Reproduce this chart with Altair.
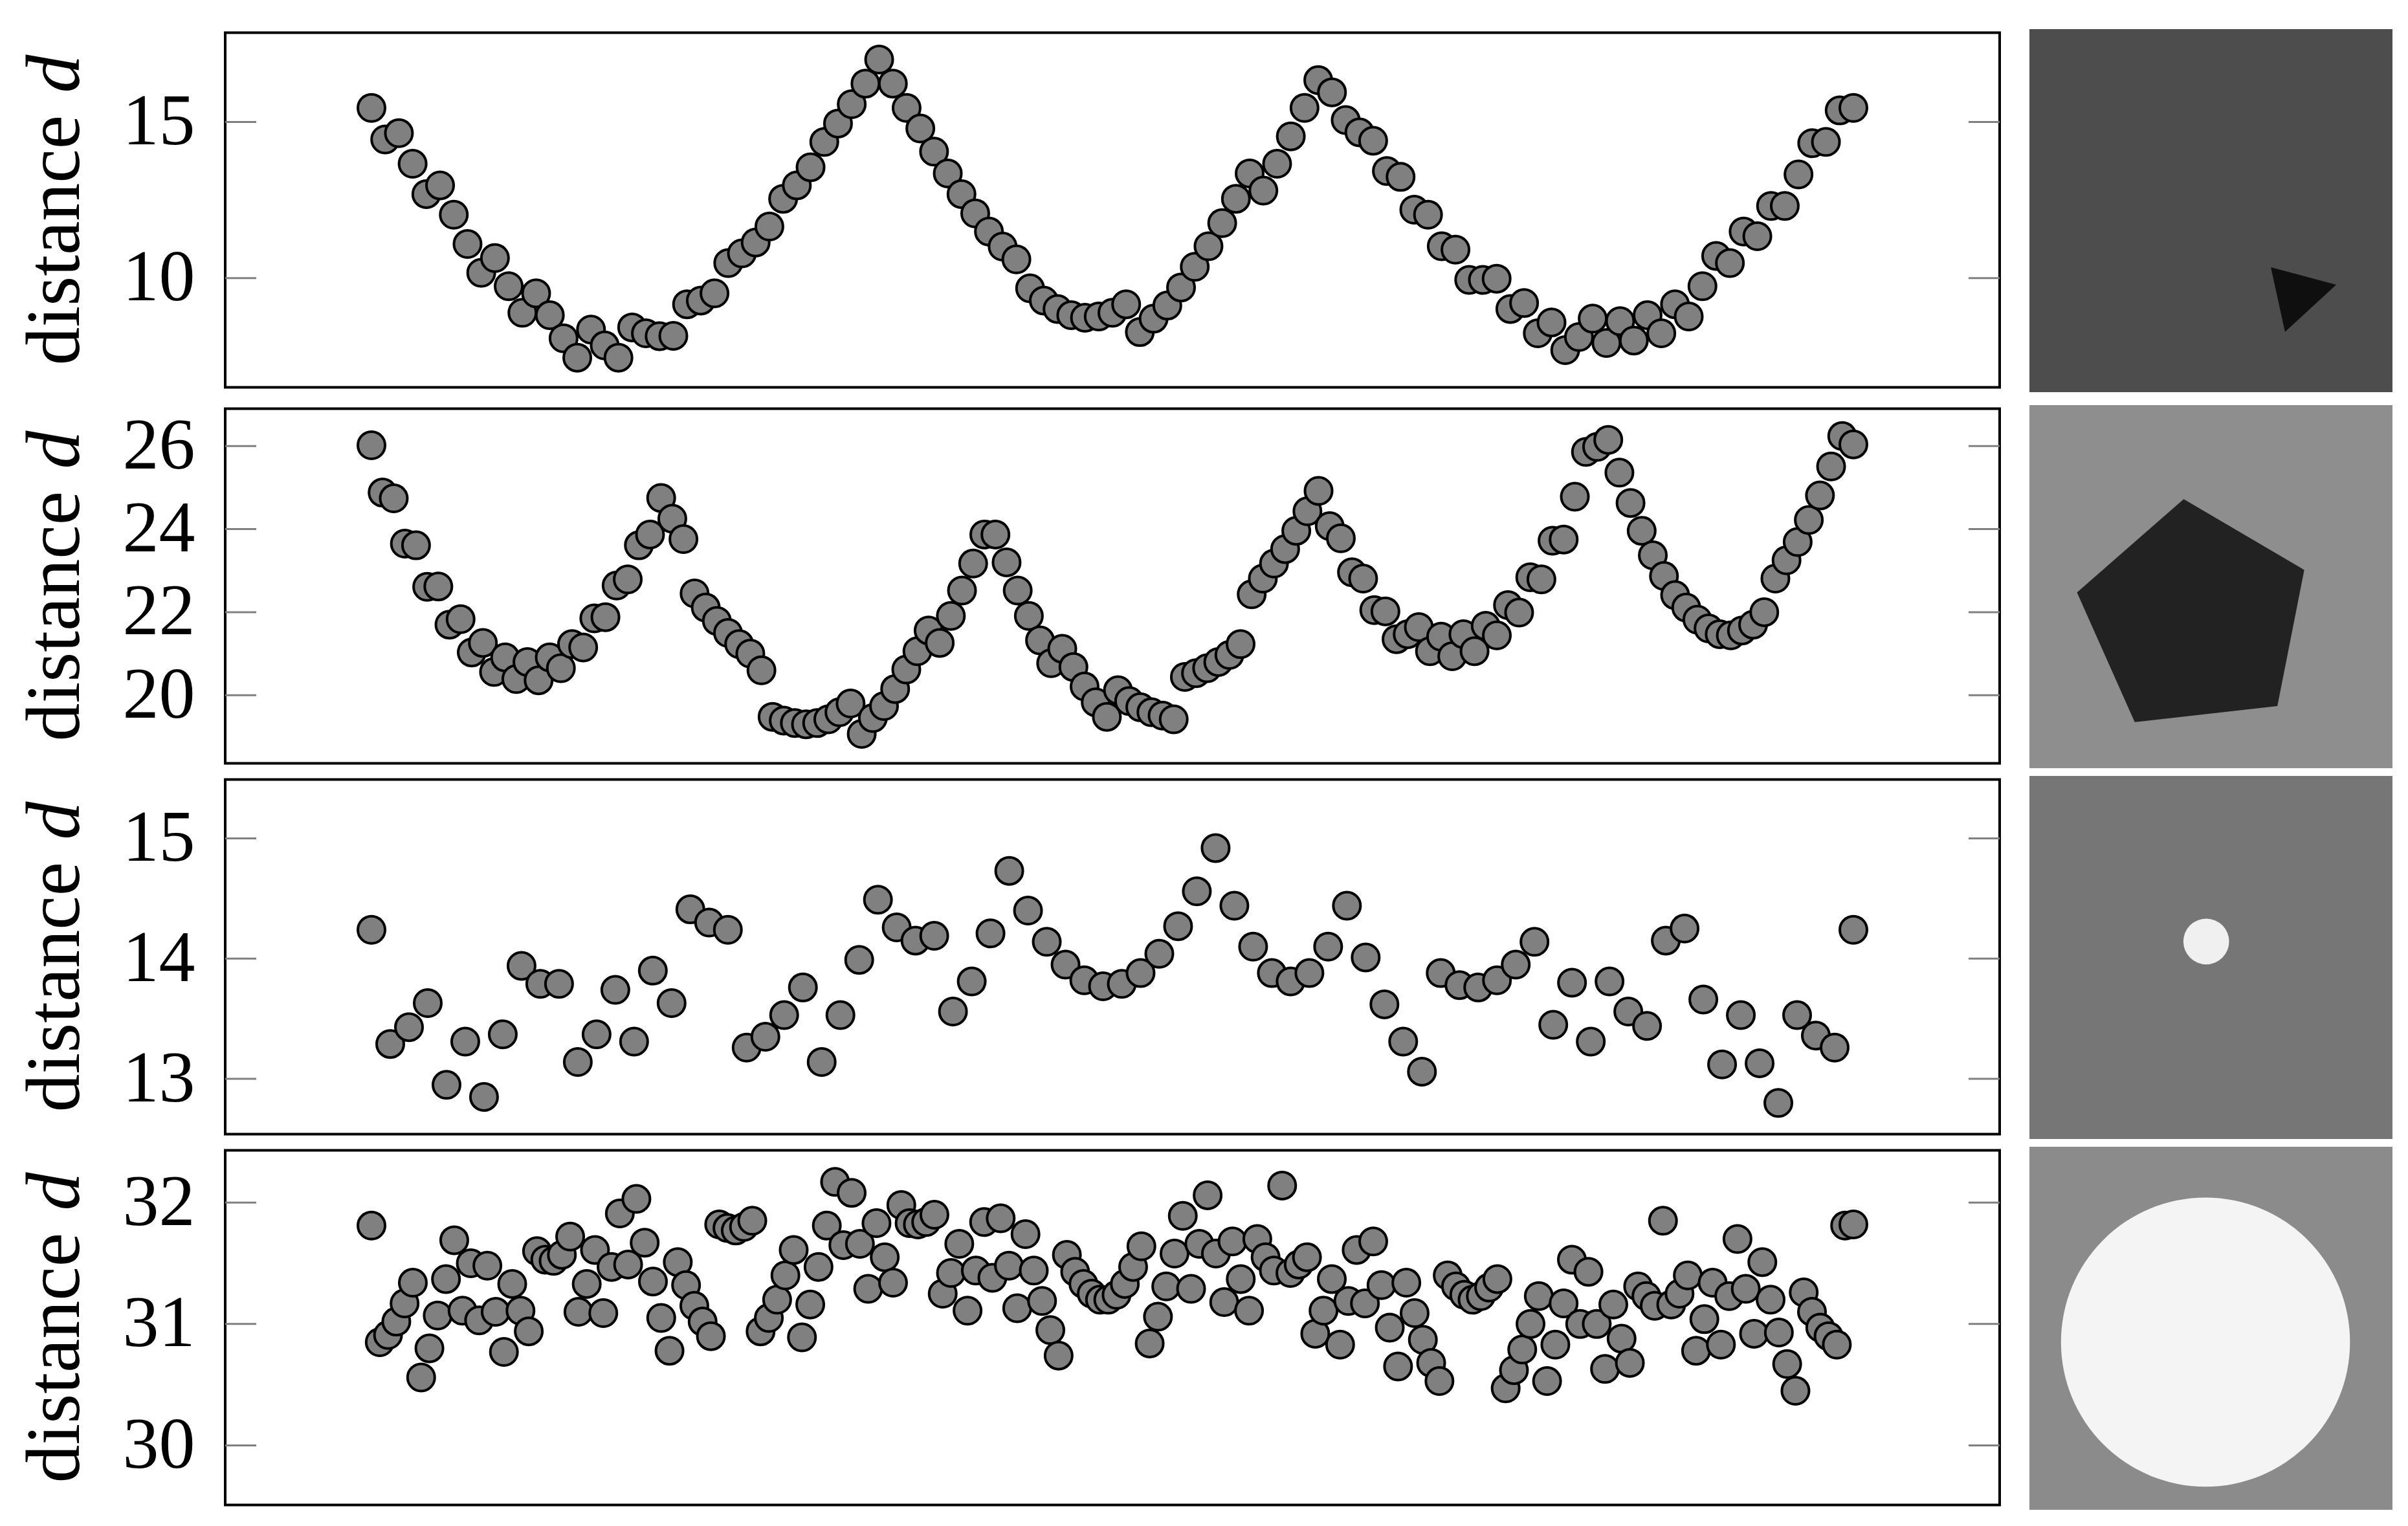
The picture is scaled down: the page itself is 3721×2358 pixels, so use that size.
import altair as alt
import numpy as np
import pandas as pd

FONT = "Liberation Serif"
W, H = 2742, 548
IMG = 561
PX = IMG / 100.0

# ---------------- data ----------------
ROW1_D = [15.45, 14.44, 14.64, 13.66, 12.69, 12.97, 12.03, 11.09, 10.17, 10.64,
          9.74, 8.89, 9.51, 8.81, 8.07, 7.45, 8.35, 7.84, 7.45, 8.42,
          8.23, 8.14, 8.15, 9.16, 9.28, 9.51, 10.48, 10.79, 11.14, 11.65,
          12.54, 12.97, 13.55, 14.36, 14.95, 15.57, 16.23, 17.00, 16.23, 15.45,
          14.79, 14.05, 13.35, 12.69, 12.07, 11.49, 11.01, 10.60, 9.67, 9.28,
          9.01, 8.81, 8.73, 8.77, 8.89, 9.16, 8.27, 8.70, 9.12, 9.70,
          10.36, 11.02, 11.76, 12.54, 13.35, 12.80, 13.66, 14.54, 15.45, 16.34,
          15.95, 15.06, 14.67, 14.40, 13.43, 13.24, 12.19, 12.03, 11.02, 10.91,
          9.94, 9.94, 9.98, 9.01, 9.20, 8.23, 8.58, 7.69, 8.11, 8.70,
          7.92, 8.62, 8.00, 8.81, 8.23, 9.16, 8.77, 9.74, 10.71, 10.48,
          11.49, 11.34, 12.31, 12.31, 13.32, 14.32, 14.36, 15.37, 15.45]

ROW2_D = [26.02, 24.88, 24.74, 23.65, 23.61, 22.61, 22.62, 21.70, 21.83, 21.03,
          21.26, 20.56, 20.91, 20.39, 20.80, 20.36, 20.91, 20.65, 21.23, 21.15,
          21.85, 21.88, 22.64, 22.79, 23.61, 23.87, 24.75, 24.25, 23.76, 22.45,
          22.11, 21.79, 21.50, 21.23, 21.00, 20.60, 19.48, 19.39, 19.33, 19.30,
          19.33, 19.42, 19.59, 19.80, 19.07, 19.45, 19.74, 20.15, 20.62, 21.06,
          21.56, 21.26, 21.91, 22.52, 23.17, 23.87, 23.87, 23.20, 22.52, 21.91,
          21.32, 20.77, 21.12, 20.68, 20.21, 19.83, 19.48,
          20.12, 19.86, 19.71, 19.59, 19.51, 19.42, 20.44, 20.53, 20.65, 20.80,
          20.97, 21.23, 22.43, 22.81, 23.17, 23.52, 23.96, 24.43, 24.92, 24.07,
          23.78, 22.96, 22.81, 22.05, 22.02, 21.35, 21.47, 21.64, 21.06, 21.41,
          20.94, 21.47, 21.06, 21.67, 21.44, 22.17, 21.99, 22.84, 22.79, 23.72,
          23.75, 24.78, 25.86, 25.98, 26.15, 25.36, 24.63, 23.96, 23.37, 22.87,
          22.41, 22.11, 21.82, 21.61, 21.47, 21.44, 21.56, 21.70, 22.00, 22.81,
          23.25, 23.69, 24.22, 24.81, 25.51, 26.24, 26.04]

ROW3_D = [14.24, 13.29, 13.43, 13.63, 12.95, 13.31, 12.85, 13.37, 13.94, 13.79,
          13.79, 13.14, 13.37, 13.74, 13.31, 13.90, 13.63, 14.41, 14.30, 14.24,
          13.26, 13.35, 13.53, 13.76, 13.14, 13.53, 13.99, 14.49, 14.26, 14.15,
          14.19, 13.56, 13.81, 14.21, 14.73, 14.40, 14.14, 13.95, 13.82, 13.77,
          13.79, 13.88, 14.04, 14.27, 14.56, 14.92, 14.44, 14.10, 13.88, 13.81,
          13.88, 14.10, 14.44, 14.01, 13.62, 13.31, 13.06, 13.88, 13.78, 13.76,
          13.82, 13.95, 14.14, 13.45, 13.80, 13.31, 13.81, 13.56, 13.44, 14.15,
          14.25, 13.66, 13.12, 13.53, 13.13, 12.80, 13.53, 13.36, 13.26, 14.24]

ROW4_D = [31.81, 30.85, 30.91, 31.02, 31.17, 31.34, 30.56, 30.80, 31.07, 31.37,
          31.69, 31.11, 31.50, 31.03, 31.48, 31.10, 30.77, 31.33, 31.11, 30.94,
          31.60, 31.53, 31.52, 31.57, 31.72, 31.10, 31.33, 31.61, 31.09, 31.47,
          31.91, 31.49, 32.03, 31.67, 31.35, 31.05, 30.78, 31.51, 31.32, 31.15,
          31.02, 30.90, 31.82, 31.79, 31.77, 31.80, 31.85, 30.94, 31.05, 31.20,
          31.40, 31.61, 30.89, 31.16, 31.47, 31.81,
          32.17, 31.65, 32.08, 31.66, 31.29, 31.83, 31.55, 31.34, 31.98, 31.83,
          31.82, 31.84, 31.90, 31.25, 31.42, 31.66, 31.11, 31.44, 31.84, 31.38,
          31.87, 31.48, 31.13, 31.74, 31.44, 31.19, 30.95, 30.74, 31.57, 31.43,
          31.33, 31.25, 31.20, 31.20, 31.24, 31.33, 31.47, 31.64, 30.84, 31.06,
          31.31, 31.58, 31.89, 31.29, 31.66, 32.06, 31.58, 31.18, 31.68, 31.37,
          31.11, 31.70, 31.55, 31.44, 32.14, 31.42, 31.49, 31.55, 30.92, 31.11,
          31.37, 30.83, 31.19, 31.61, 31.17, 31.68, 31.32, 30.97, 30.65,
          31.34, 31.09, 30.87, 30.68, 30.53, 31.40, 31.31, 31.24, 31.20, 31.23,
          31.30, 31.37, 30.47, 30.62, 30.79, 31.00, 31.23, 30.53, 30.83, 31.17,
          31.53, 31.00, 31.43, 31.00, 30.63, 31.16, 30.88, 30.68, 31.31, 31.23,
          31.15, 31.85, 31.16, 31.25, 31.40, 30.78, 31.04, 31.34, 30.83, 31.23,
          31.70, 31.29, 30.92, 31.51, 31.20, 30.93, 30.67, 30.45, 31.26, 31.10,
          30.97, 30.90, 30.83, 31.81, 31.82]

Y_DOMAINS = [[6.5, 17.86], [18.36, 26.9], [12.54, 15.49], [29.51, 32.43]]
Y_TICKS = [[10, 15], [20, 22, 24, 26], [13, 14, 15], [30, 31, 32]]

# image panels (coordinates in percent of the image square, y downward)
IMG_BG = ["#4d4d4d", "#8e8e8e", "#767676", "#8b8b8b"]
IMG_FG = ["#0f0f0f", "#222222", "#f0f0f0", "#f4f4f4"]
SQUARE_U = [0, 100, 100, 0]
SQUARE_V = [0, 0, 100, 100]
TRIANGLE_U = [66.5, 84.5, 70.4]
TRIANGLE_V = [65.6, 70.4, 83.4]
PENTAGON_U = [42.5, 75.7, 68.3, 29.0, 13.1]
PENTAGON_V = [25.9, 45.4, 82.9, 87.3, 51.6]
CIRCLE_SMALL = {"cx": 48.7, "cy": 45.6, "r": 6.3}
CIRCLE_BIG = {"cx": 48.5, "cy": 53.8, "r": 39.8}


def scatter(vals, domain, ticks):
    n = len(vals)
    df = pd.DataFrame({"i": list(range(n)), "d": vals})
    pad = 0.0987 * (n - 1)
    xs = alt.Scale(domain=[-pad, n - 1 + pad], nice=False, zero=False)
    ysc = alt.Scale(domain=domain, nice=False, zero=False)
    yax = alt.Axis(values=ticks, ticks=False, tickSize=0, domain=False, grid=False,
                   labelFont=FONT, labelFontSize=112, labelColor="black",
                   labelPadding=47, title=None, labelFlush=False, labelOverlap=False)
    yenc = alt.Y("d:Q", scale=ysc, axis=yax)
    tdf = pd.DataFrame({"d": ticks})
    lt = alt.Chart(tdf).mark_rule(color="#808080", strokeWidth=3).encode(
        y=yenc, x=alt.value(0), x2=alt.value(48))
    rt = alt.Chart(tdf).mark_rule(color="#808080", strokeWidth=3).encode(
        y=yenc, x=alt.value(W - 48), x2=alt.value(W))
    pts = alt.Chart(df).mark_point(filled=True, fill="#808080", stroke="black",
                                   strokeWidth=4, size=1764, opacity=1).encode(
        x=alt.X("i:Q", scale=xs, axis=None), y=yenc)
    t1 = alt.Chart(alt.Data(values=[{"s": "distance"}])).mark_text(
        text="distance", font=FONT, fontSize=118, angle=270, align="left",
        baseline="alphabetic", color="black").encode(
        x=alt.value(-226), y=alt.value(H / 2 + 240))
    t2 = alt.Chart(alt.Data(values=[{"s": "d"}])).mark_text(
        text="d", font=FONT, fontSize=118, fontStyle="italic", angle=270, align="right",
        baseline="alphabetic", color="black").encode(
        x=alt.value(-226), y=alt.value(H / 2 - 240))
    return alt.layer(lt, rt, pts, t1, t2).properties(
        width=W, height=H, view=alt.ViewBackground(stroke="black", strokeWidth=4))


def feature(us, vs):
    ring = [[u, v] for u, v in zip(us, vs)]
    ring.append(ring[0])
    return {"type": "Feature", "properties": {},
            "geometry": {"type": "Polygon", "coordinates": [ring]}}


def image(bg, fg, poly=None, circ=None):
    proj = dict(type="identity", scale=PX, translate=[0, 0])
    layers = [alt.Chart(alt.Data(values=[feature(SQUARE_U, SQUARE_V)]))
              .mark_geoshape(fill=bg, strokeWidth=0).project(**proj)]
    if poly is not None:
        layers.append(alt.Chart(alt.Data(values=[feature(*poly)]))
                      .mark_geoshape(fill=fg, strokeWidth=0).project(**proj))
    if circ is not None:
        cdf = pd.DataFrame([circ])
        # Vega symbol size is the area of the bounding square
        cdf["area"] = (2 * cdf["r"] * PX) ** 2
        layers.append(alt.Chart(cdf).mark_circle(color=fg, opacity=1).encode(
            longitude="cx:Q", latitude="cy:Q",
            size=alt.Size("area:Q", scale=None, legend=None)).project(**proj))
    return alt.layer(*layers).properties(
        width=IMG, height=IMG, view=alt.ViewBackground(strokeWidth=0))


rows = []
specs = [
    (ROW1_D, (TRIANGLE_U, TRIANGLE_V), None),
    (ROW2_D, (PENTAGON_U, PENTAGON_V), None),
    (ROW3_D, None, CIRCLE_SMALL),
    (ROW4_D, None, CIRCLE_BIG),
]
for k, (vals, poly, circ) in enumerate(specs):
    sc = scatter(vals, Y_DOMAINS[k], Y_TICKS[k])
    im = image(IMG_BG[k], IMG_FG[k], poly, circ)
    rows.append(alt.hconcat(sc, im, spacing=42, center=True))

chart = alt.vconcat(rows[0], alt.vconcat(rows[1], rows[2], rows[3], spacing=12),
                    spacing=20).properties(
    padding={"left": 17, "top": 37, "right": 10, "bottom": 10},
    background="white",
).configure_view(strokeWidth=0)

chart.save("out.html", embed_options={"renderer": "svg", "actions": False})
